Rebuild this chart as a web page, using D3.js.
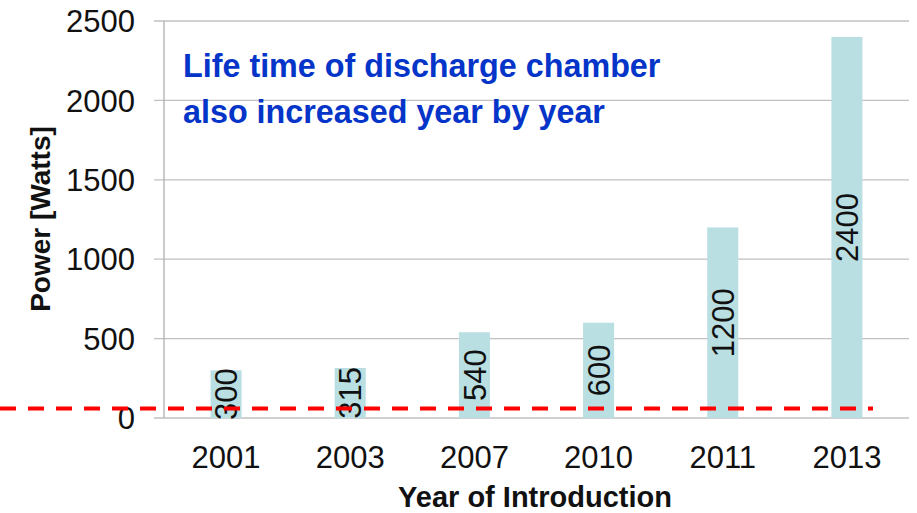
<!DOCTYPE html>
<html><head><meta charset="utf-8">
<script src="https://cdn.jsdelivr.net/npm/d3@7"></script>
<style>body{margin:0;background:#fff;}svg{display:block;font-family:Arial,"Liberation Sans",sans-serif;}</style>
</head><body><svg id="c" width="917" height="513"></svg>
<script>
const years = ["2001","2003","2007","2010","2011","2013"];
const power = [300,315,540,600,1200,2400];
const yTicks = [0,500,1000,1500,2000,2500];
const thresholdValue = 60;
const titleLines = ["Life time of discharge chamber","also increased year by year"];
const xTitle = "Year of Introduction";
const yTitle = "Power [Watts]";

const svg = d3.select("#c");
const plotLeft = 164, plotRight = 909, plotTop = 21, plotBottom = 418;
const x = d3.scaleBand().domain(years).range([plotLeft, plotRight]).paddingInner(0.75).paddingOuter(0.375);
const y = d3.scaleLinear().domain([0,2500]).range([plotBottom, plotTop]);

// gridlines
svg.append("g").selectAll("line").data(yTicks).join("line")
  .attr("x1", plotLeft-10).attr("x2", plotRight)
  .attr("y1", d=>y(d)).attr("y2", d=>y(d))
  .attr("stroke", "#c0c0c0").attr("stroke-width", 1.3);
// y axis line
svg.append("line").attr("x1", plotLeft).attr("x2", plotLeft).attr("y1", y(2500)).attr("y2", y(0))
  .attr("stroke", "#b0b0b0").attr("stroke-width", 1.3);

// y tick labels
svg.append("g").selectAll("text").data(yTicks).join("text")
  .attr("x", 135).attr("y", d=>y(d)).attr("dy", "0.36em")
  .attr("text-anchor", "end").attr("font-size", 31).attr("fill", "#111")
  .text(d=>d);

// bars
svg.append("g").selectAll("rect").data(power).join("rect")
  .attr("x", (d,i)=>x(years[i])).attr("width", x.bandwidth())
  .attr("y", d=>y(d)).attr("height", d=>y(0)-y(d))
  .attr("fill", "#badfe3");

// bar labels
svg.append("g").selectAll("text").data(power).join("text")
  .attr("transform", (d,i)=>`translate(${x(years[i])+x.bandwidth()/2},${(y(d)+y(0))/2}) rotate(-90)`)
  .attr("dy", "0.36em").attr("text-anchor", "middle")
  .attr("font-size", 31).attr("fill", "#111").text(d=>d);

// threshold dashed line
svg.append("line").attr("x1", 0).attr("x2", 873)
  .attr("y1", y(thresholdValue)).attr("y2", y(thresholdValue))
  .attr("stroke", "#ff0000").attr("stroke-width", 4).attr("stroke-dasharray", "16,12");

// x tick labels
svg.append("g").selectAll("text").data(years).join("text")
  .attr("x", d=>x(d)+x.bandwidth()/2).attr("y", 468)
  .attr("text-anchor", "middle").attr("font-size", 31).attr("fill", "#111").text(d=>d);

// axis titles
svg.append("text").attr("x", 535).attr("y", 507).attr("text-anchor", "middle")
  .attr("font-size", 29).attr("font-weight", "bold").attr("fill", "#111").text(xTitle);
svg.append("text").attr("transform", `translate(50,219) rotate(-90)`).attr("text-anchor", "middle")
  .attr("font-size", 28).attr("font-weight", "bold").attr("fill", "#111").text(yTitle);

// annotation title
svg.append("g").selectAll("text").data(titleLines).join("text")
  .attr("x", 183).attr("y", (d,i)=>77+i*46)
  .attr("font-size", 32.3).attr("font-weight", "bold").attr("fill", "#0434c8").text(d=>d);
</script></body></html>
